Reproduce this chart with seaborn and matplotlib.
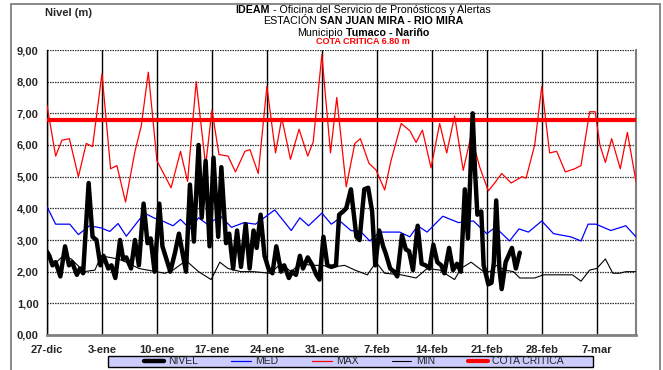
import matplotlib
matplotlib.use("Agg")
import matplotlib.pyplot as plt
from matplotlib.lines import Line2D
from matplotlib.patches import Rectangle
import seaborn as sns

# NIVEL (twice daily readings), day offset from 27-dic
nivel_day = [0, 0.3, 0.7, 1.1, 1.7, 2.3, 2.8, 3.2, 3.8, 4.2,
             4.6, 5.3, 5.8, 6.3, 6.8, 7.2, 7.8, 8.2, 8.7, 9.3,
             9.7, 10.1, 10.7, 11.2, 11.7, 12.3, 12.8, 13.2, 13.7, 14.3,
             14.7, 15.2, 15.7, 16.3, 16.8, 17.7, 18.2, 18.7, 19.3, 19.7,
             20.2, 20.7, 21.2, 21.8, 22.2, 22.8, 23.2, 23.7, 24.2, 24.7,
             25.3, 25.8, 26.3, 26.7, 27.2, 27.7, 28.2, 28.7, 29.2, 29.8,
             30.2, 30.8, 31.2, 31.7, 32.2, 32.6, 33.2, 33.8, 34.3, 34.7,
             35.2, 35.7, 36.2, 36.8, 37.2, 37.7, 38.1, 38.7, 39.4, 39.8,
             40.4, 40.9, 41.4, 41.8, 42.3, 42.8, 43.1, 43.7, 44.2, 44.6,
             45.2, 45.7, 46.1, 46.6, 47.2, 47.7, 48.2, 48.7, 49.2, 49.7,
             50.2, 50.6, 51.2, 51.7, 52.2, 52.7, 53.2, 53.6, 54.2, 54.5,
             54.8, 55.3, 55.6, 56.2, 56.6, 56.9, 57.2, 57.6, 57.9, 58.4,
             59.2, 59.7, 60.2]
nivel = [2.63, 2.5, 2.2, 2.3, 1.85, 2.8, 2.2, 2.3, 1.9, 2.1,
         1.95, 4.8, 3.1, 3.0, 2.2, 2.5, 2.1, 2.2, 1.8, 3.0,
         2.4, 2.45, 2.1, 3.0, 2.2, 4.15, 2.9, 3.05, 2.0, 4.15,
         2.8, 2.4, 2.0, 2.6, 3.2, 2.0, 4.75, 2.95, 6.0, 3.7,
         5.5, 2.8, 5.6, 3.1, 5.3, 2.9, 3.2, 2.1, 3.3, 2.15,
         3.5, 2.1, 3.3, 2.75, 3.8, 2.5, 2.1, 1.95, 2.8, 2.0,
         2.2, 1.8, 2.0, 1.9, 2.5, 2.1, 2.45, 2.2, 1.9, 1.75,
         3.1, 2.2, 2.15, 2.2, 3.8, 3.9, 4.0, 4.6, 3.1, 3.0,
         4.6, 4.65, 3.9, 2.2, 3.3, 2.8, 2.6, 2.1, 2.0, 1.85,
         3.15, 2.7, 2.65, 2.05, 3.45, 2.25, 2.2, 2.1, 2.85, 2.3,
         2.2, 1.95, 2.75, 2.05, 2.25, 2.0, 4.6, 3.05, 7.0, 5.2,
         3.8, 3.9, 2.2, 1.6, 1.65, 2.3, 4.25, 2.1, 1.45, 2.3,
         2.75, 2.1, 2.6]

med_day = [0, 1.1, 2.9, 4.0, 5.4, 6.9, 8.0, 9.05, 10.1, 11.3, 12.4, 13.6,
           14.7, 16.05, 17.0, 18.2, 19.3, 20.4, 22.1, 23.5, 25.1, 26.55,
           29.0, 31.1, 32.2, 33.3, 35.0, 36.2, 37.05, 38.7, 40.0, 41.1,
           42.4, 44.9, 46.2, 47.2, 48.4, 50.4, 52.4, 54.3, 56.0, 57.1,
           58.9, 60.1, 61.3, 63.0, 64.5, 66.7, 68.0, 68.9, 69.9, 71.8,
           73.7, 75.0]
med = [4.05, 3.5, 3.5, 3.17, 3.45, 3.38, 3.27, 3.52, 3.12, 3.5, 3.85, 3.7,
       3.6, 3.45, 3.65, 3.35, 3.7, 3.5, 3.75, 3.4, 3.55, 3.5,
       3.95, 3.3, 3.7, 3.45, 3.85, 3.5, 3.65, 3.3, 3.25, 2.97,
       3.25, 3.25, 3.1, 3.45, 3.25, 3.75, 3.55, 3.6, 3.2, 3.4,
       2.97, 3.35, 3.25, 3.6, 3.2, 3.1, 2.97, 3.5, 3.5, 3.3,
       3.45, 3.1]

max_day = [0, 1.1, 1.9, 2.85, 4.0, 5.0, 5.8, 7.0, 8.1, 8.9, 10.0, 11.2,
           12.0, 12.9, 14.0, 15.8, 17.0, 17.9, 19.0, 20.2, 21.0, 21.9,
           23.05, 24.0, 25.2, 25.85, 26.9, 28.0, 29.1, 29.9, 31.0, 32.1,
           33.2, 33.9, 35.0, 36.1, 36.9, 38.1, 39.2, 39.9, 41.0, 41.9,
           43.0, 43.8, 45.1, 46.2, 47.0, 47.8, 48.9, 50.0, 50.9, 51.9,
           53.0, 54.0, 55.1, 56.2, 57.0, 57.9, 59.1, 60.5, 61.0, 62.1,
           63.0, 64.0, 64.9, 66.0, 67.2, 68.0, 69.1, 69.8, 70.4, 71.1,
           71.9, 73.0, 73.9, 75.0]
max_ = [7.25, 5.65, 6.15, 6.2, 5.0, 6.05, 5.95, 8.25, 5.25, 5.35, 4.2, 5.8,
        6.6, 8.3, 5.5, 4.65, 5.8, 4.85, 8.0, 5.35, 7.1, 5.7,
        5.65, 5.15, 5.8, 5.85, 5.1, 7.85, 5.75, 6.85, 5.55, 6.5,
        5.65, 6.1, 8.85, 5.75, 7.5, 4.68, 6.05, 6.2, 5.42, 5.21,
        4.58, 5.5, 6.68, 6.45, 6.08, 6.47, 5.28, 6.68, 5.75, 6.92,
        5.2, 6.3, 5.3, 4.55, 4.8, 5.1, 4.8, 5.0, 4.95, 6.0,
        7.85, 5.75, 5.8, 5.15, 5.25, 5.35, 7.05, 7.05, 6.0, 5.45,
        6.2, 5.25, 6.4, 4.85]

min_day = [0, 1.0, 2.05, 3.1, 4.7, 6.1, 6.9, 9.05, 10.1, 11.7, 13.9, 15.0,
           16.05, 17.7, 19.3, 20.9, 22.0, 23.05, 24.7, 26.3, 28.4, 29.8,
           31.1, 32.2, 33.8, 34.9, 36.5, 37.9, 39.2, 40.8, 41.9, 43.0,
           45.1, 47.0, 48.4, 50.0, 51.9, 52.7, 54.0, 55.6, 56.4, 57.2,
           58.3, 59.4, 60.2, 62.1, 63.2, 66.9, 68.0, 69.1, 70.0, 71.1,
           72.05, 72.9, 73.7, 75.0]
min_ = [2.6, 2.25, 2.5, 2.4, 2.0, 2.05, 2.5, 2.4, 2.3, 2.1, 2.0, 1.95,
        2.05, 2.35, 2.0, 1.75, 2.3, 2.1, 2.0, 2.0, 1.95, 2.25,
        2.0, 2.25, 2.2, 2.2, 2.15, 2.2, 2.05, 1.9, 2.3, 1.95,
        1.9, 1.8, 2.1, 2.05, 1.75, 2.1, 2.3, 2.0, 2.0, 2.2,
        2.05, 2.0, 1.8, 1.8, 1.9, 1.9, 1.7, 2.05, 2.1, 2.4,
        1.95, 1.95, 2.0, 2.0]

cota_critica = 6.80
tick_days = [0, 7, 14, 21, 28, 35, 42, 49, 56, 63, 70]
tick_labels = ["27-dic", "3-ene", "10-ene", "17-ene", "24-ene", "31-ene",
               "7-feb", "14-feb", "21-feb", "28-feb", "7-mar"]

sns.set_style("white")
plt.rcParams['font.family'] = ['Liberation Sans', 'DejaVu Sans']

W, H = 663, 370
fig = plt.figure(figsize=(W / 100, H / 100), dpi=100)
ax = fig.add_axes([47 / W, 1 - 335 / H, 589 / W, 285 / H])

sns.lineplot(x=med_day, y=med, ax=ax, color='#0000FF', linewidth=0.9, zorder=3)
sns.lineplot(x=max_day, y=max_, ax=ax, color='#FF0000', linewidth=0.9, zorder=3)
sns.lineplot(x=min_day, y=min_, ax=ax, color='black', linewidth=0.8, zorder=3)
ax.axhline(cota_critica, color='#FF0000', linewidth=3, zorder=4)
sns.lineplot(x=nivel_day, y=nivel, ax=ax, color='black', linewidth=3.2,
             zorder=5, solid_joinstyle='round', solid_capstyle='round')

ax.set_xlim(0, 75)
ax.set_ylim(0, 9)
ax.set_xticks(tick_days)
ax.set_xticklabels(tick_labels)
yt = list(range(0, 10))
ax.set_yticks(yt)
ax.set_yticklabels([f"{v:.2f}".replace('.', ',') for v in yt])
ax.set_xlabel("")
ax.set_ylabel("")
for lab in ax.get_xticklabels() + ax.get_yticklabels():
    lab.set_fontweight('bold')
    lab.set_fontsize(8)
ax.tick_params(axis='both', direction='out', length=4, width=1, color='black', pad=2)
ax.tick_params(axis='x', pad=3)

ax.set_axisbelow(True)
ax.grid(axis='x', color='black', linewidth=1, linestyle='-')
ax.grid(axis='y', color='#333333', linewidth=0.9, linestyle=(0, (1.2, 0.8)))
ax.spines['top'].set_visible(False)
ax.spines['left'].set_color('black')
ax.spines['left'].set_linewidth(1)
ax.spines['bottom'].set_color('#808080')
ax.spines['bottom'].set_linewidth(2)
ax.spines['right'].set_color('#808080')
ax.spines['right'].set_linewidth(1.5)

# outer frame
fig.patches.append(Rectangle((11 / W, -0.05), 649 / W, 1.05 - 3.5 / H,
                             transform=fig.transFigure, fill=False,
                             edgecolor='#808080', linewidth=1.3))

# title block with mixed weights
renderer = fig.canvas.get_renderer()


def mixed_line(cx, cy, parts, size, color='black'):
    texts = []
    for s, w in parts:
        texts.append(fig.text(0, cy, s, fontsize=size, fontweight=w,
                              color=color, ha='left', va='center'))
    widths = [t.get_window_extent(renderer).width for t in texts]
    gap = 0.3 * size * 100 / 72
    total = sum(widths) + gap * (len(texts) - 1)
    x = cx * W - total / 2
    for t, wd in zip(texts, widths):
        t.set_x(x / W)
        x += wd + gap


cx = 363 / W
mixed_line(cx, 1 - 10 / H, [("IDEAM", 'bold'),
                            ("- Oficina del Servicio de Pronósticos y Alertas", 'normal')], 7.7)
mixed_line(cx, 1 - 21.5 / H, [("ESTACIÓN", 'normal'),
                              ("SAN JUAN MIRA - RIO MIRA", 'bold')], 7.7)
mixed_line(cx, 1 - 32.5 / H, [("Municipio", 'normal'),
                              ("Tumaco - Nariño", 'bold')], 7.7)
fig.text(cx, 1 - 42 / H, "COTA CRÍTICA 6.80 m", color='#FF0000',
         fontsize=6.5, fontweight='bold', ha='center', va='center')
fig.text(45 / W, 1 - 13 / H, "Nivel (m)", fontsize=8, fontweight='bold',
         ha='left', va='center')

# legend
fig.patches.append(Rectangle((108 / W, 1 - 367 / H), 485 / W, 11 / H,
                             transform=fig.transFigure, facecolor='#CCCCFF',
                             edgecolor='black', linewidth=1))
handles = [Line2D([], [], color='black', linewidth=3.2),
           Line2D([], [], color='#0000FF', linewidth=0.9),
           Line2D([], [], color='#FF0000', linewidth=0.9),
           Line2D([], [], color='black', linewidth=0.8),
           Line2D([], [], color='#FF0000', linewidth=3)]
labels = ["NIVEL", "MED", "MAX", "MIN", "COTA CRITICA"]
fig.legend(handles, labels, ncol=5, loc='center',
           bbox_to_anchor=(354 / W, 1 - 361.5 / H), frameon=False,
           fontsize=7.5, handlelength=1.9, handletextpad=0.4,
           columnspacing=3.2, borderpad=0, borderaxespad=0)

fig.savefig("out.png", dpi=100)
